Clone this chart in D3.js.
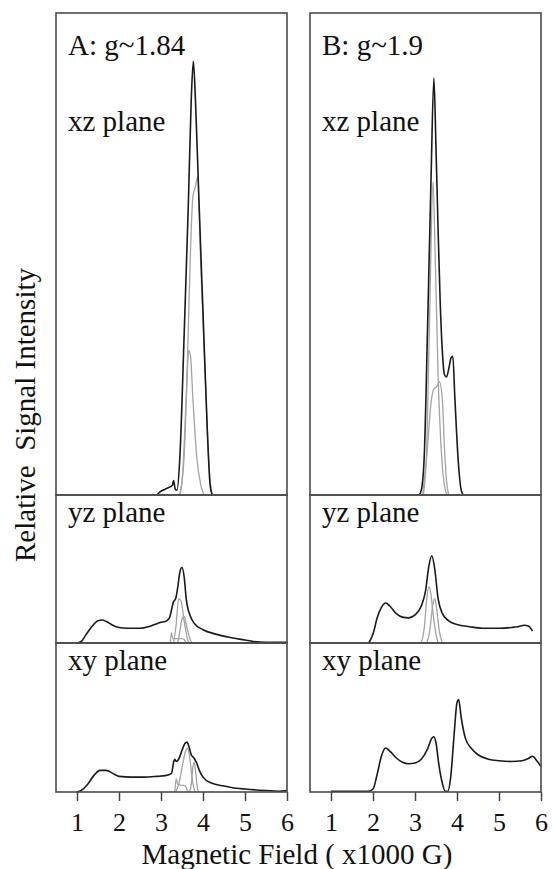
<!DOCTYPE html>
<html>
<head>
<meta charset="utf-8">
<title>Simulated spectra</title>
<style>
    body { margin: 0; background: #fff; }
    svg text { fill: #111; }
    .tick line { stroke: #444; stroke-width: 1.5; }
</style>
</head>
<body>
<div id="chart"></div>
<script src="https://d3js.org/d3.v7.min.js"></script>
<script>

    // field ticks (x1000 G)
    var fieldTicks = [1, 2, 3, 4, 5, 6];
    var columnTitles = ['A: g~1.84', 'B: g~1.9'];
    var planeNames = ['xz plane', 'yz plane', 'xy plane'];

    // [field, relative intensity]; black = total, gray = components
    var aXzTotal = [[2.9,0],[3.0,0.008],[3.1,0.012],[3.2,0.016],[3.27,0.02],[3.3,0.03],[3.34,0.012],[3.38,0.01],[3.45,0.08],[3.55,0.33],[3.65,0.6],[3.72,0.82],[3.77,0.9],[3.82,0.82],[3.9,0.62],[4.0,0.38],[4.1,0.14],[4.17,0.02],[4.22,0]];
    var aXzComp1 = [[3.45,0],[3.55,0.08],[3.62,0.25],[3.7,0.5],[3.76,0.62],[3.82,0.64],[3.87,0.66],[3.95,0.47],[4.05,0.25],[4.15,0.05],[4.22,0]];
    var aXzComp2 = [[3.45,0],[3.52,0.05],[3.6,0.2],[3.66,0.3],[3.7,0.29],[3.76,0.2],[3.85,0.08],[3.95,0.02],[4.02,0]];

    var aYzTotal = [[1.0,0],[1.1,0.01],[1.2,0.05],[1.35,0.11],[1.5,0.15],[1.6,0.155],[1.7,0.145],[1.85,0.12],[2.0,0.105],[2.2,0.1],[2.5,0.1],[2.7,0.11],[2.85,0.125],[3.0,0.14],[3.1,0.145],[3.2,0.17],[3.3,0.28],[3.35,0.3],[3.4,0.38],[3.45,0.48],[3.5,0.51],[3.55,0.45],[3.6,0.3],[3.7,0.18],[3.8,0.13],[4.0,0.09],[4.3,0.06],[4.6,0.04],[5.0,0.02],[5.2,0.01],[5.5,0.005],[6.0,0.005]];
    var aYzComp1 = [[3.22,0],[3.25,0.07],[3.28,0.03],[3.35,0.03],[3.5,0.03],[3.56,0.02],[3.6,0]];
    var aYzComp2 = [[3.3,0],[3.36,0.12],[3.42,0.3],[3.48,0.28],[3.55,0.15],[3.62,0.04],[3.66,0]];
    var aYzComp3 = [[3.4,0],[3.45,0.08],[3.5,0.16],[3.55,0.18],[3.62,0.1],[3.7,0.02],[3.73,0]];

    var aXyTotal = [[1.0,0],[1.1,0.01],[1.25,0.05],[1.4,0.11],[1.55,0.145],[1.7,0.145],[1.85,0.125],[2.0,0.105],[2.3,0.1],[2.6,0.1],[2.9,0.105],[3.1,0.11],[3.25,0.125],[3.3,0.2],[3.33,0.22],[3.36,0.205],[3.42,0.22],[3.5,0.28],[3.57,0.325],[3.62,0.335],[3.67,0.3],[3.72,0.25],[3.78,0.23],[3.84,0.2],[3.92,0.14],[4.0,0.1],[4.2,0.06],[4.5,0.04],[4.8,0.025],[5.0,0.02],[5.5,0.01],[5.8,0.005],[6.0,0.01]];
    var aXyComp1 = [[3.33,0],[3.36,0.09],[3.4,0.05],[3.5,0.045],[3.58,0.04],[3.63,0.01],[3.66,0]];
    var aXyComp2 = [[3.35,0],[3.42,0.05],[3.5,0.16],[3.58,0.27],[3.63,0.295],[3.68,0.24],[3.73,0.12],[3.78,0.03],[3.82,0]];
    var aXyComp3 = [[3.68,0],[3.72,0.05],[3.76,0.17],[3.79,0.2],[3.83,0.12],[3.87,0.02],[3.9,0]];

    var bXzTotal = [[3.1,0],[3.15,0.01],[3.22,0.08],[3.3,0.35],[3.38,0.65],[3.45,0.865],[3.5,0.72],[3.55,0.55],[3.6,0.4],[3.65,0.3],[3.7,0.25],[3.75,0.245],[3.8,0.26],[3.86,0.285],[3.9,0.288],[3.95,0.2],[4.03,0.07],[4.1,0.01],[4.15,0]];
    var bXzComp1 = [[3.2,0],[3.28,0.1],[3.35,0.38],[3.43,0.65],[3.48,0.5],[3.55,0.25],[3.62,0.1],[3.7,0.02],[3.76,0]];
    var bXzComp2 = [[3.18,0],[3.28,0.08],[3.38,0.19],[3.45,0.22],[3.52,0.225],[3.58,0.235],[3.65,0.2],[3.7,0.1],[3.75,0.03],[3.8,0]];

    var bYzTotal = [[1.9,0],[2.0,0.06],[2.1,0.17],[2.2,0.24],[2.3,0.27],[2.4,0.25],[2.55,0.2],[2.7,0.175],[2.85,0.17],[3.0,0.19],[3.15,0.25],[3.25,0.35],[3.33,0.52],[3.4,0.59],[3.47,0.5],[3.55,0.3],[3.65,0.2],[3.8,0.15],[4.0,0.125],[4.3,0.11],[4.6,0.1],[5.0,0.1],[5.3,0.105],[5.45,0.11],[5.6,0.12],[5.7,0.115],[5.8,0.08]];
    var bYzComp1 = [[3.15,0],[3.22,0.1],[3.28,0.3],[3.33,0.38],[3.38,0.33],[3.43,0.2],[3.5,0.06],[3.55,0]];
    var bYzComp2 = [[3.28,0],[3.35,0.08],[3.42,0.25],[3.47,0.3],[3.52,0.22],[3.58,0.08],[3.65,0]];

    var bXyTotal = [[1.0,0.005],[1.9,0.005],[2.0,0.02],[2.1,0.12],[2.2,0.24],[2.3,0.295],[2.4,0.275],[2.55,0.23],[2.7,0.2],[2.85,0.19],[3.0,0.195],[3.15,0.22],[3.3,0.29],[3.4,0.36],[3.45,0.37],[3.5,0.33],[3.57,0.18],[3.65,0.06],[3.72,0.005],[3.78,0.005],[3.85,0.1],[3.93,0.38],[4.0,0.6],[4.04,0.62],[4.1,0.5],[4.2,0.36],[4.35,0.29],[4.5,0.25],[4.75,0.22],[5.0,0.21],[5.3,0.205],[5.55,0.21],[5.7,0.225],[5.8,0.24],[5.9,0.21],[6.0,0.17]];

    // panels: [column][row] -> { total, comps }
    var panels = [
        [
            {total: aXzTotal, comps: [aXzComp1, aXzComp2]},
            {total: aYzTotal, comps: [aYzComp1, aYzComp2, aYzComp3]},
            {total: aXyTotal, comps: [aXyComp1, aXyComp2, aXyComp3]}
        ],
        [
            {total: bXzTotal, comps: [bXzComp1, bXzComp2]},
            {total: bYzTotal, comps: [bYzComp1, bYzComp2]},
            {total: bXyTotal, comps: []}
        ]
    ];

    var serif = '"Liberation Serif", "Times New Roman", Times, Tinos, "DejaVu Serif", "Noto Serif", FreeSerif, serif';
    var width = 553;
    var height = 869;
    var colLeft = [56, 310];
    var colWidth = 231;
    var rowEdges = [13, 495, 643, 792];

    var svg = d3.select('#chart')
        .append('svg')
        .attr('width', width)
        .attr('height', height);

    panels.forEach(function(column, c) {
        var x = d3.scaleLinear()
            .domain([0.5, 6])
            .range([colLeft[c], colLeft[c] + colWidth]);

        column.forEach(function(panel, r) {
            var y = d3.scaleLinear()
                .domain([0, 1])
                .range([rowEdges[r + 1], rowEdges[r]]);

            var line = d3.line()
                .x(function(d) { return x(d[0]); })
                .y(function(d) { return y(d[1]); })
                .curve(d3.curveMonotoneX);

            var g = svg.append('g');

            g.selectAll('.comp')
                .data(panel.comps)
                .enter()
                .append('path')
                .attr('class', 'comp')
                .attr('d', line)
                .attr('fill', 'none')
                .attr('stroke', '#a3a3a3')
                .attr('stroke-width', 1.3);

            g.append('path')
                .datum(panel.total)
                .attr('d', line)
                .attr('fill', 'none')
                .attr('stroke', '#1a1a1a')
                .attr('stroke-width', 1.6);

            // panel frame
            g.append('rect')
                .attr('x', colLeft[c])
                .attr('y', rowEdges[r])
                .attr('width', colWidth)
                .attr('height', rowEdges[r + 1] - rowEdges[r])
                .attr('fill', 'none')
                .attr('stroke', '#4a4a4a')
                .attr('stroke-width', 1.6);

            g.append('text')
                .attr('x', colLeft[c] + 12)
                .attr('y', rowEdges[r] + (r === 0 ? 118 : 27))
                .style('font-family', serif)
                .style('font-size', '29px')
                .text(planeNames[r]);
        });

        svg.append('text')
            .attr('x', colLeft[c] + 12)
            .attr('y', 55)
            .style('font-family', serif)
            .style('font-size', '29px')
            .text(columnTitles[c]);

        var axis = d3.axisBottom(x)
            .tickValues(fieldTicks)
            .tickSize(9)
            .tickPadding(12)
            .tickFormat(d3.format('d'));

        svg.append('g')
            .attr('transform', 'translate(0,' + rowEdges[3] + ')')
            .call(axis)
            .call(function(a) {
                a.select('.domain').remove();
                a.selectAll('text')
                    .style('font-family', serif)
                    .style('font-size', '26px');
            });
    });

    svg.append('text')
        .attr('x', 297)
        .attr('y', 864)
        .attr('text-anchor', 'middle')
        .style('font-family', serif)
        .style('font-size', '29px')
        .text('Magnetic Field ( x1000 G)');

    svg.append('text')
        .attr('transform', 'translate(35,415) rotate(-90)')
        .attr('text-anchor', 'middle')
        .style('font-family', serif)
        .style('font-size', '29px')
        .style('white-space', 'pre')
        .text('Relative  Signal Intensity');

</script>
</body>
</html>
